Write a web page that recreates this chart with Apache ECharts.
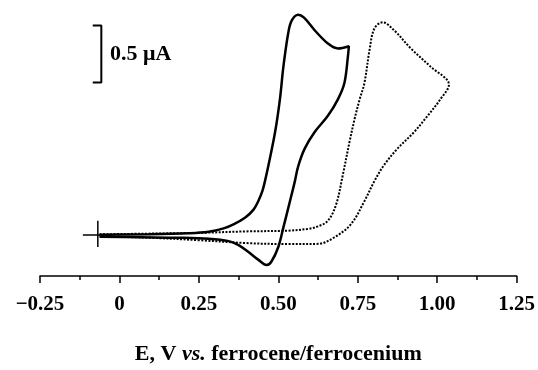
<!DOCTYPE html>
<html>
<head>
<meta charset="utf-8">
<script src="https://cdn.jsdelivr.net/npm/echarts@6/dist/echarts.min.js"></script>
<style>
html,body{margin:0;padding:0;background:#fff;}
#chart{width:538px;height:370px;}
</style>
</head>
<body>
<div id="chart"></div>
<script>
// Tick labels of the potential axis (V vs. Fc/Fc+)
var xTickValues = [-0.25, 0, 0.25, 0.5, 0.75, 1.0, 1.25];
var xTickLabels = ['\u22120.25', '0', '0.25', '0.50', '0.75', '1.00', '1.25'];

// Solid voltammogram: potential (V) and current (µA, relative)
var solidE = [-0.0625, 0.094, 0.219, 0.281, 0.328, 0.359, 0.396, 0.422, 0.4375, 0.45, 0.458, 0.469, 0.490, 0.505, 0.516, 0.531, 0.542, 0.5625, 0.581, 0.615, 0.656, 0.6875, 0.722,
              0.719, 0.708, 0.6875, 0.656, 0.615, 0.583, 0.5625, 0.552, 0.537, 0.516, 0.5, 0.478, 0.463, 0.4375, 0.406, 0.375, 0.344, 0.281, 0.1875, 0.0625, -0.0625];
var solidI = [0.013, 0.017, 0.026, 0.039, 0.069, 0.104, 0.165, 0.234, 0.312, 0.399, 0.485, 0.624, 0.919, 1.205, 1.493, 1.785, 1.898, 1.950, 1.924, 1.811, 1.696, 1.652, 1.672,
              1.580, 1.349, 1.205, 1.060, 0.919, 0.771, 0.615, 0.483, 0.312, 0.078, -0.095, -0.225, -0.254, -0.208, -0.139, -0.078, -0.043, -0.022, -0.013, -0.009, -0.004];

// Dotted voltammogram
var dottedE = [-0.0625, 0.25, 0.406, 0.531, 0.594, 0.625, 0.656, 0.682, 0.703, 0.724, 0.740, 0.756, 0.771, 0.787, 0.802, 0.828, 0.865, 0.917, 0.979, 1.037,
               1.010, 0.969, 0.927, 0.875, 0.833, 0.802, 0.771, 0.729, 0.677, 0.625, 0.531, 0.406, 0.25, 0.094, -0.0625];
var dottedI = [0.017, 0.030, 0.043, 0.049, 0.065, 0.087, 0.136, 0.280, 0.540, 0.829, 1.031, 1.205, 1.349, 1.638, 1.826, 1.883, 1.811, 1.653, 1.493, 1.334,
               1.205, 1.057, 0.916, 0.771, 0.627, 0.483, 0.309, 0.107, -0.009, -0.067, -0.069, -0.061, -0.035, -0.013, 0.0];

// Scale bar (0.5 µA) and start-potential cross marker
var scaleBarE = [-0.084, -0.057, -0.057, -0.084];
var scaleBarI = [1.854, 1.854, 1.354, 1.354];
var scaleBarLabel = '0.5 \u03bcA';
var crossVE = [-0.068, -0.068];
var crossVI = [0.136, -0.095];
var crossHE = [-0.115, -0.022];
var crossHI = [0.011, 0.011];

function pairs(a, b) { return a.map(function (v, i) { return [v, b[i]]; }); }

var serif = '"Liberation Serif", "DejaVu Serif", serif';
var chart = echarts.init(document.getElementById('chart'));
chart.setOption({
  animation: false,
  backgroundColor: '#fff',
  grid: { left: 40, right: 20, top: 9, bottom: 90 },
  xAxis: {
    type: 'value', min: -0.25, max: 1.25, interval: 0.25,
    axisLine: { show: true, onZero: false, lineStyle: { color: '#000', width: 1.5 } },
    axisTick: { show: true, length: 7, lineStyle: { color: '#000', width: 1.5 } },
    minorTick: { show: true, splitNumber: 2, length: 4, lineStyle: { color: '#000', width: 1.5 } },
    splitLine: { show: false },
    axisLabel: {
      margin: 18, color: '#000', fontFamily: serif, fontWeight: 'bold', fontSize: 21,
      formatter: function (v) {
        for (var i = 0; i < xTickValues.length; i++) {
          if (Math.abs(xTickValues[i] - v) < 1e-6) return xTickLabels[i];
        }
        return '';
      }
    },
    name: '{a|E, V }{i|vs.}{a| ferrocene/ferrocenium}',
    nameLocation: 'middle', nameGap: 67,
    nameTextStyle: {
      rich: {
        a: { fontFamily: serif, fontWeight: 'bold', fontSize: 22, color: '#000' },
        i: { fontFamily: serif, fontStyle: 'italic', fontWeight: 'bold', fontSize: 22, color: '#000' }
      }
    }
  },
  yAxis: { type: 'value', min: -0.35, max: 2.0, show: false, splitLine: { show: false } },
  series: [
    { type: 'line', data: pairs(solidE, solidI), showSymbol: false, smooth: 0.35,
      lineStyle: { color: '#000', width: 2.5 } },
    { type: 'line', data: pairs(dottedE, dottedI), showSymbol: false, smooth: 0.35,
      lineStyle: { color: '#000', width: 2, type: [2, 1.5] } },
    { type: 'line', data: pairs(scaleBarE, scaleBarI), showSymbol: false,
      lineStyle: { color: '#000', width: 2 } },
    { type: 'line', data: pairs(crossVE, crossVI), showSymbol: false,
      lineStyle: { color: '#000', width: 1.5 } },
    { type: 'line', data: pairs(crossHE, crossHI), showSymbol: false,
      lineStyle: { color: '#000', width: 1.5 } }
  ],
  graphic: [
    { type: 'text', left: 110, top: 43,
      style: { text: scaleBarLabel, fontFamily: serif, fontWeight: 'bold', fontSize: 22, fill: '#000' } }
  ]
});
</script>
</body>
</html>
